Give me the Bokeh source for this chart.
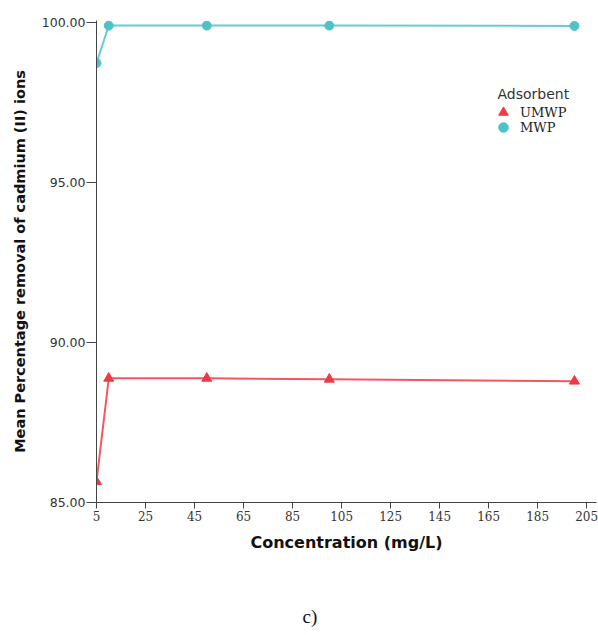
from bokeh.plotting import figure
from bokeh.models import (FixedTicker, NumeralTickFormatter, Range1d, Legend,
                          LegendItem, Label, Title)
from bokeh.embed import file_html
from bokeh.resources import INLINE

# Mean percentage removal of Cd(II) against initial concentration
concentration = [5, 10, 50, 100, 200]
umwp_removal = [85.65, 88.88, 88.88, 88.85, 88.79]
mwp_removal = [98.73, 99.90, 99.90, 99.90, 99.89]

x_ticks = [5, 25, 45, 65, 85, 105, 125, 145, 165, 185, 205]
y_ticks = [85, 90, 95, 100]

RED = "#EE3A45"
CYAN = "#4DC3C7"
AXIS = "#444444"

p = figure(width=598, height=635, output_backend="svg", toolbar_location=None,
           x_range=Range1d(5, 209), y_range=Range1d(85, 100.06),
           min_border_left=96, min_border_right=2, min_border_top=20,
           min_border_bottom=133)
p.outline_line_color = None
p.grid.visible = False
p.background_fill_color = "white"

# lines and markers
p.line(concentration, umwp_removal, line_color=RED, line_width=2, line_alpha=0.85)
r_u = p.scatter(concentration, umwp_removal, marker="triangle", size=10,
                fill_color=RED, line_color=RED)
p.line(concentration, mwp_removal, line_color=CYAN, line_width=2, line_alpha=0.85)
r_m = p.scatter(concentration, mwp_removal, marker="circle", size=9,
                fill_color=CYAN, line_color=CYAN)

# axes
xa = p.xaxis[0]
xa.ticker = FixedTicker(ticks=x_ticks)
xa.minor_tick_line_color = None
xa.major_tick_out = 6
xa.major_tick_in = 0
xa.axis_line_color = AXIS
xa.major_tick_line_color = AXIS
xa.major_label_text_font = "DejaVu Serif"
xa.major_label_text_font_size = "12px"
xa.major_label_text_color = "#333333"
xa.major_label_standoff = 2
xa.axis_label = "Concentration (mg/L)"
xa.axis_label_text_font = "DejaVu Sans"
xa.axis_label_text_font_style = "bold"
xa.axis_label_text_font_size = "16px"
xa.axis_label_text_color = "#111111"
xa.axis_label_standoff = 9

ya = p.yaxis[0]
ya.ticker = FixedTicker(ticks=y_ticks)
ya.formatter = NumeralTickFormatter(format="0.00")
ya.minor_tick_line_color = None
ya.major_tick_out = 10
ya.major_tick_in = 0
ya.axis_line_color = AXIS
ya.major_tick_line_color = AXIS
ya.major_label_text_font = "DejaVu Sans"
ya.major_label_text_font_size = "12.5px"
ya.major_label_text_color = "#333333"
ya.major_label_standoff = 1
ya.axis_label = "Mean Percentage removal of cadmium (II) ions"
ya.axis_label_text_font = "DejaVu Sans"
ya.axis_label_text_font_style = "bold"
ya.axis_label_text_font_size = "14.5px"
ya.axis_label_text_color = "#111111"
ya.axis_label_standoff = 11


def legend_entry(label, renderer, bottom):
    # one legend box per series so the rows can sit close together
    lg = Legend(items=[LegendItem(label=label, renderers=[renderer])],
                location=(395, bottom))
    lg.label_text_font = "DejaVu Serif"
    lg.label_text_font_size = "13px"
    lg.label_text_color = "#222222"
    lg.glyph_width = 24
    lg.glyph_height = 24
    lg.label_height = 15
    lg.label_standoff = 5
    lg.padding = 0
    lg.margin = 0
    lg.border_line_alpha = 0
    lg.background_fill_alpha = 0
    p.add_layout(lg)


legend_entry("UMWP", r_u, 378)
legend_entry("MWP", r_m, 363)

# legend heading, frame-relative pixels
legend_title = Label(x=401, y=409, x_units="screen", y_units="screen",
                     text="Adsorbent", text_font="DejaVu Sans",
                     text_font_size="14px", text_color="#333333",
                     text_baseline="middle")
p.add_layout(legend_title)

# panel caption under the chart; the leading blank lines push it down
caption = Title(text="\n\nc)", align="left", offset=206, standoff=4,
                vertical_align="bottom", text_line_height=1.15,
                text_font="Liberation Serif", text_font_size="19px",
                text_font_style="normal", text_color="#111111")
p.add_layout(caption, "below")

open("out.html", "w").write(file_html(p, INLINE))
